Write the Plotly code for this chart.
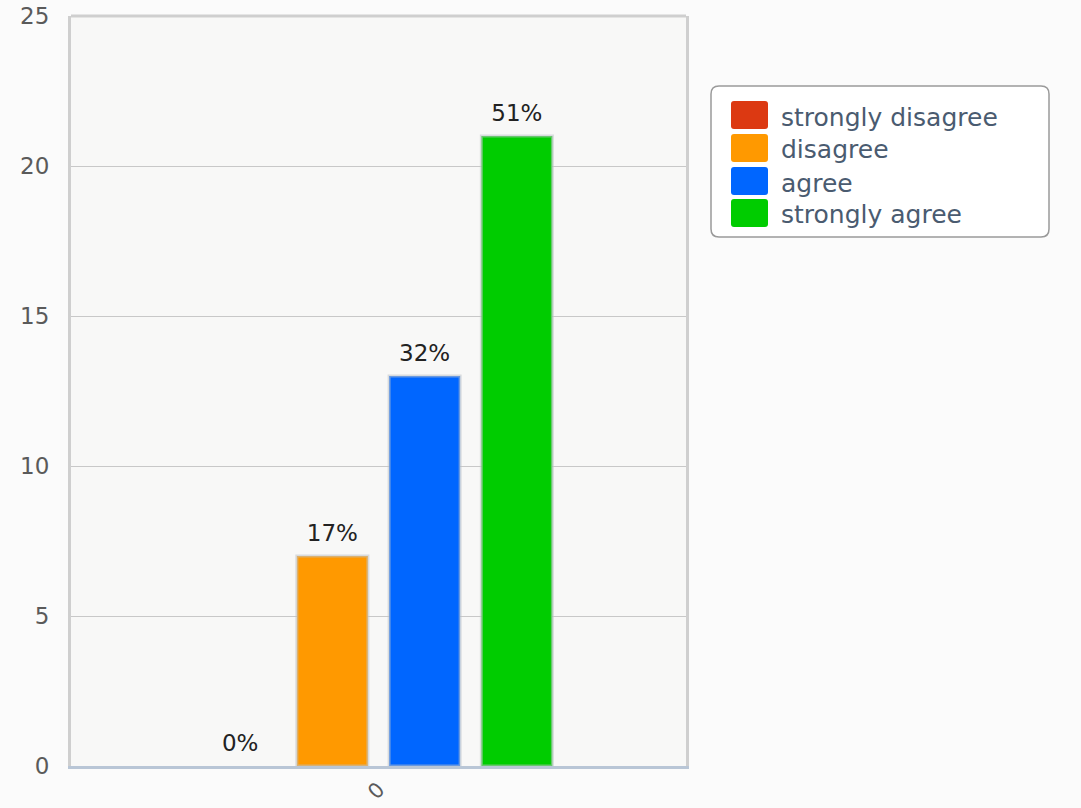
import plotly.graph_objects as go

categories = ["0"]
series_names = ["strongly disagree", "disagree", "agree", "strongly agree"]
series_values = [0, 7, 13, 21]
series_labels = ["0%", "17%", "32%", "51%"]
series_colors = ["#dc3912", "#ff9900", "#0066ff", "#00cc00"]
y_ticks = [0, 5, 10, 15, 20, 25]

FONT = "DejaVu Sans"

fig = go.Figure()
for name, val, col in zip(series_names, series_values, series_colors):
    fig.add_trace(go.Bar(
        x=categories, y=[val], name=name,
        marker=dict(color=col, line=dict(color="rgba(190,195,200,0.55)", width=3 if val > 0 else 0)),
        showlegend=False, hoverinfo="skip",
    ))
# value labels, grouped like the bars
for name, val, lab in zip(series_names, series_values, series_labels):
    fig.add_trace(go.Scatter(
        x=categories, y=[val], name=name, text=[lab], mode="markers+text",
        textposition="top center", cliponaxis=False,
        marker=dict(size=14, opacity=0),
        textfont=dict(family=FONT, size=23, color="#222222"),
        showlegend=False, hoverinfo="skip",
    ))

def px2x(px):
    return (px - 71) / 615.0

def px2y(py):
    return (766 - py) / 750.0

x0, x1, y0, y1 = px2x(711), px2x(1049), px2y(86), px2y(237)
def rounded(xa, ya, xb, yb, rx, ry):
    return (f"M{xa+rx},{ya} L{xb-rx},{ya} Q{xb},{ya} {xb},{ya-ry} "
            f"L{xb},{yb+ry} Q{xb},{yb} {xb-rx},{yb} L{xa+rx},{yb} "
            f"Q{xa},{yb} {xa},{yb+ry} L{xa},{ya-ry} Q{xa},{ya} {xa+rx},{ya} Z")

shapes = [dict(type="path", xref="paper", yref="paper",
               path=rounded(x0, y0, x1, y1, 8 / 615.0, 8 / 750.0),
               line=dict(color="#9a9a9a", width=1.5), fillcolor="#ffffff", layer="below")]
annotations = []
row_centers = [115, 148, 181, 213]
for name, col, cy in zip(series_names, series_colors, row_centers):
    shapes.append(dict(type="path", xref="paper", yref="paper",
                       path=rounded(px2x(731), px2y(cy - 14), px2x(768), px2y(cy + 14), 3 / 615.0, 3 / 750.0),
                       line=dict(width=0), fillcolor=col))
    annotations.append(dict(xref="paper", yref="paper", x=px2x(779), y=px2y(cy + 2),
                            text=name, showarrow=False, xanchor="left", yanchor="middle",
                            font=dict(family=FONT, size=25, color="#4a5b70")))
shapes.append(dict(type="line", xref="paper", yref="paper", x0=0, x1=1, y0=1, y1=1,
                   line=dict(color="#cfcfcf", width=3)))

fig.update_layout(
    width=1081, height=808,
    margin=dict(l=71, r=395, t=16, b=42, autoexpand=False),
    paper_bgcolor="#fbfbfb", plot_bgcolor="#f8f8f7",
    barmode="group", bargap=0.4, bargroupgap=0.23,
    scattermode="group", scattergap=0.4,
    shapes=shapes, annotations=annotations,
    font=dict(family=FONT),
    xaxis=dict(type="category", showgrid=False, showline=True, linecolor="#b9c6d6", linewidth=3,
               tickangle=-45, tickfont=dict(family=FONT, size=21, color="#5a5a5a"),
               ticks="", zeroline=False, automargin=False),
    yaxis=dict(range=[0, 25], tickvals=y_ticks, showgrid=True, gridcolor="#c8c8c8", gridwidth=1,
               showline=True, mirror=True, linecolor="#cfcfcf", linewidth=3,
               tickfont=dict(family=FONT, size=23, color="#5a5a5a"),
               ticks="outside", ticklen=0, ticklabelstandoff=14, zeroline=False, automargin=False),
)

fig.write_html("out.html", config={"displayModeBar": False},
               post_script="document.body.style.margin='0';document.body.style.overflow='hidden';")
